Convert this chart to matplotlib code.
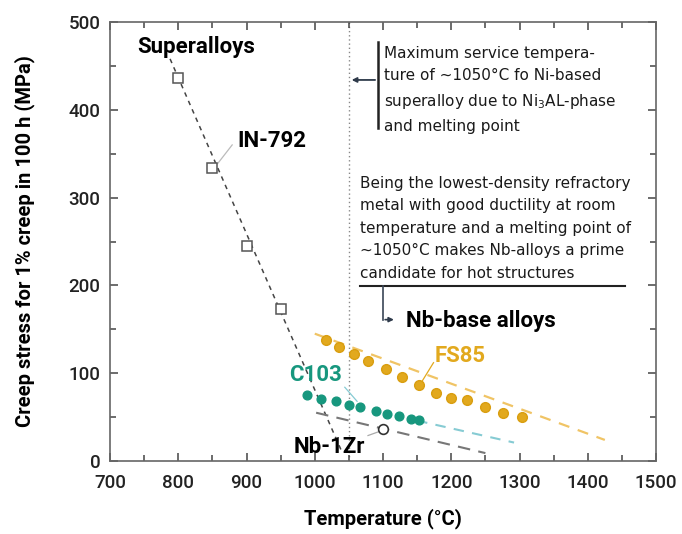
import matplotlib.pyplot as plt
from matplotlib.ticker import MultipleLocator

plt.rcParams['font.family'] = ['Roboto', 'DejaVu Sans']

# data
super_t = [800, 850, 900, 950]
super_s = [436, 334, 245, 173]
super_line_t = [788, 1040]
super_line_s = [458, 10]

fs85_t = [1017, 1036, 1057, 1078, 1104, 1128, 1153, 1178, 1200, 1223, 1249, 1276, 1303]
fs85_s = [138, 130, 122, 114, 105, 96, 87, 78, 72, 69, 62, 55, 50]
fs85_line_t = [1000, 1425]
fs85_line_s = [145, 24]

c103_t = [988, 1009, 1031, 1050, 1067, 1090, 1106, 1124, 1141, 1152]
c103_s = [75, 71, 68, 64, 61, 57, 54, 51, 48, 47]
c103_line_t = [1150, 1292]
c103_line_s = [46, 21]

nb1zr_t = [1100]
nb1zr_s = [36]
nb1zr_line_t = [1002, 1250]
nb1zr_line_s = [55, 9]

gold = '#E2A91E'
teal = '#17977E'
lblue = '#86CBD3'

fig = plt.figure(figsize=(6.82, 5.34), dpi=100)
ax = fig.add_axes([0.1613, 0.1367, 0.8006, 0.8221])

# trend lines
ax.plot(super_line_t, super_line_s, ls=(0, (3, 3)), color='#444444', lw=1.1, zorder=2)
ax.plot(fs85_line_t, fs85_line_s, ls=(0, (5, 4)), color='#F0C465', lw=1.6, zorder=2)
ax.plot(c103_line_t, c103_line_s, ls=(0, (5, 4)), color=lblue, lw=1.5, zorder=2)
ax.plot(nb1zr_line_t, nb1zr_line_s, ls=(0, (6, 4)), color='#777777', lw=1.5, zorder=2)

# markers
ax.plot(super_t, super_s, 's', mfc='white', mec='#555555', ms=7, mew=1.1, ls='none', zorder=4)
ax.plot(fs85_t, fs85_s, 'o', color=gold, mec='#D99E10', ms=7, ls='none', zorder=4)
ax.plot(c103_t, c103_s, 'o', color=teal, ms=6.3, ls='none', zorder=4)
ax.plot(nb1zr_t, nb1zr_s, 'o', mfc='white', mec='#333333', ms=7, mew=1.2, ls='none', zorder=4)

# 1050 °C limit
ax.axvline(1050, color='#888888', ls=(0, (1, 2)), lw=1, zorder=1)

# labels on the curves
lab = dict(fontsize=16, fontweight='bold', va='center')
ax.text(740, 472, 'Superalloys', ha='left', **lab)
ax.text(886, 365, 'IN-792', ha='left', **lab)
ax.plot([858, 879], [339, 360], color='#BBBBBB', lw=0.9)
ax.text(1176, 120, 'FS85', color=gold, ha='left', **lab)
ax.plot([1155, 1174], [88, 112], color=gold, lw=0.9)
ax.text(962, 98, 'C103', color=teal, ha='left', **lab)
ax.plot([1044, 1062], [84, 68], color=lblue, lw=0.9)
ax.text(1022, 16, 'Nb-1Zr', ha='center', **lab)
ax.plot([1078, 1096], [29, 34], color='#AAAAAA', lw=0.9)

# top annotation
note = dict(fontsize=11, va='top', ha='left', linespacing=1.63, family='DejaVu Sans', color='#1A1A1A')
ax.plot([1092.5, 1092.5], [379, 477], color='#222222', lw=1.8)
ax.annotate('', xy=(1050, 434), xytext=(1092.5, 434),
            arrowprops=dict(arrowstyle='-|>', color='#2E3A4A', lw=1.3, mutation_scale=7))
ax.text(1101, 473, 'Maximum service tempera-\nture of ~1050°C fo Ni-based\n'
        'superalloy due to Ni$_3$AL-phase\nand melting point', **note)

ax.text(1066, 325, 'Being the lowest-density refractory\nmetal with good ductility at room\n'
        'temperature and a melting point of\n~1050°C makes Nb-alloys a prime\n'
        'candidate for hot structures', **note)
ax.plot([1066, 1455], [199, 199], color='#222222', lw=1.5)
ax.plot([1099.5, 1099.5], [199, 161], color='#3A4656', lw=1.2)
ax.annotate('', xy=(1120, 161), xytext=(1099, 161),
            arrowprops=dict(arrowstyle='-|>', color='#2E3A4A', lw=1.2, mutation_scale=7))
ax.text(1133, 160, 'Nb-base alloys', ha='left', **lab)

ax.set_xlim(700, 1500)
ax.set_ylim(0, 500)
ax.xaxis.set_major_locator(MultipleLocator(100))
ax.xaxis.set_minor_locator(MultipleLocator(50))
ax.yaxis.set_major_locator(MultipleLocator(100))
ax.yaxis.set_minor_locator(MultipleLocator(50))
ax.tick_params(which='both', direction='in', top=True, right=True, color='#444444', width=1.1)
ax.tick_params(which='major', length=6, labelsize=13.5, labelcolor='#222222', pad=7)
ax.tick_params(axis='x', which='major', pad=9)
ax.tick_params(which='minor', length=4)
for t in ax.get_xticklabels() + ax.get_yticklabels():
    t.set_fontweight('medium')
for s in ax.spines.values():
    s.set_color('#666666')
    s.set_linewidth(1.2)

ax.set_xlabel('Temperature (°C)', fontsize=14.5, fontweight='bold', labelpad=12)
ax.set_ylabel('Creep stress for 1% creep in 100 h (MPa)', fontsize=14.5, fontweight='bold', labelpad=24)

fig.savefig('out.png', dpi=100)
